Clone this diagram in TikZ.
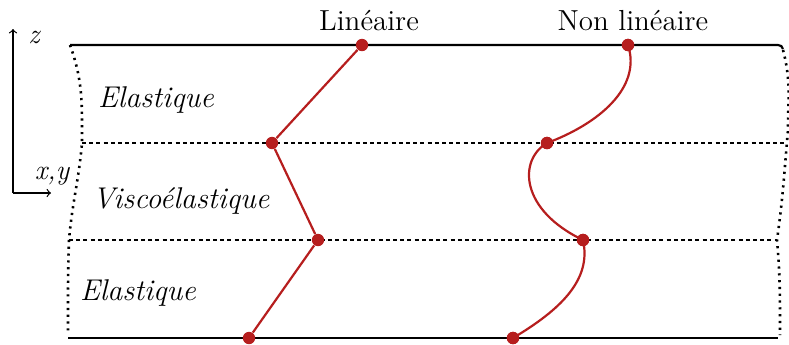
\documentclass[tikz,border=0pt]{standalone}
\definecolor{ptred}{RGB}{182,30,30}
\begin{document}
\begin{tikzpicture}[x=0.5pt, y=-0.5pt,
		lbl/.style={font=\fontsize{14.5}{17}\selectfont},
		layer/.style={font=\fontsize{15}{18}\selectfont\itshape},
		pt/.style={draw=none, fill=ptred, circle, inner sep=0pt, minimum size=6.2pt},
		redline/.style={draw=ptred, line width=1.1pt},
		border/.style={line width=1.3pt, dash pattern=on 1.1pt off 2.3pt},
		interface/.style={line width=1.1pt, dash pattern=on 2pt off 1.6pt},
		axis/.style={line width=0.6pt, ->}]
		\useasboundingbox (0,0) rectangle (789,344);
		
		% plaques
		\draw[line width=1.1pt] (70,45) -- (778,45) to[out=0,in=100] (783,49);
		\draw[line width=1.1pt] (68,338) -- (778,338);
		\draw[border] (70,45) to[out=-70,in=90] (82,143) to[out=-95,in=85] (69,240) to[out=-92,in=90] (68,335);
		\draw[border] (783,50) to[out=-75,in=90] (788,130) to[out=-95,in=82] (777,240) to[out=-85,in=90] (780,335);
		\draw[interface] (82,143) -- (786,143);
		\draw[interface] (69,240) -- (777,240);
		
		% axes
		\coordinate (o) at (13,193);
		\node [inner sep=0pt] (zl) at (34,37) {\fontsize{14}{16}\selectfont\itshape z};
		\node [inner sep=0pt] (xyl) at (52,176) {\fontsize{14}{16}\selectfont\itshape x,y};
		\draw[axis] (o) -- (13,29);
		\draw[axis] (o) -- (51,193);
		
		% couches
		\node [layer] (e1) at (156,100) {Elastique};
		\node [layer] (ve) at (181,201) {Viscoélastique};
		\node [layer] (e2) at (138,293) {Elastique};
		
		% lineaire
		\node [lbl] (lin) at (369,21) {Linéaire};
		\node [pt] (l1) at (362,45) {};
		\node [pt] (l2) at (272,143) {};
		\node [pt] (l3) at (318,240) {};
		\node [pt] (l4) at (249,338) {};
		\draw[redline] (l1) -- (l2) -- (l3) -- (l4);
		
		% non lineaire
		\node [lbl] (nlin) at (633,21) {Non linéaire};
		\node [pt] (n1) at (628,45) {};
		\node [pt] (n2) at (547,143) {};
		\node [pt] (n3) at (583,240) {};
		\node [pt] (n4) at (513,338) {};
		\draw[redline] (n1.center) .. controls (642,88) and (598,124) .. (n2.center)
			.. controls (518,160) and (520,210) .. (n3.center)
			.. controls (592,280) and (560,310) .. (n4.center);
		\foreach \p in {n1, n2, n3, n4}
			\fill[ptred] (\p) circle (3.1pt);
\end{tikzpicture}
\end{document}
